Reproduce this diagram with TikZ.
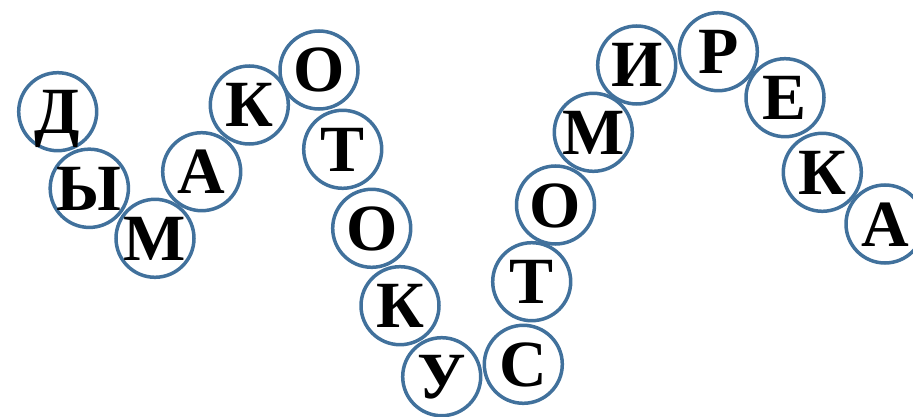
\documentclass[tikz,border=0pt]{standalone}
\usepackage{fontspec}
\setmainfont{Liberation Serif}
\usepackage{tikz}
\usetikzlibrary{shapes}
\definecolor{ringblue}{RGB}{65,113,156}
\tikzset{letter/.style={circle,draw=ringblue,line width=3.5pt,minimum size=78pt,inner sep=0pt,
  text height=44pt,text depth=0pt,font=\fontsize{66}{66}\selectfont\bfseries}}

\begin{document}
\begin{tikzpicture}[x=1pt,y=-1pt]
\useasboundingbox (0,0) rectangle (913,417);

% first hill
\node[letter] (d) at (57.7,111.7) {Д};
\node[letter] (y) at (89.3,188.3) {Ы};
\node[letter] (m1) at (155,238.3) {М};
\node[letter] (a1) at (201.7,171.7) {А};
\node[letter] (k1) at (249.3,105) {К};
\node[letter] (o1) at (319,70) {О};

% valley
\node[letter] (t1) at (342.7,149.3) {Т};
\node[letter] (o2) at (371.7,228.3) {О};
\node[letter] (k2) at (400,305.7) {К};
\node[letter] (u) at (441.7,376.7) {У};
\node[letter] (s) at (523.3,364.3) {С};
\node[letter] (t2) at (531.7,281.7) {Т};
\node[letter] (o3) at (555.5,205) {О};

% second hill
\node[letter] (m2) at (593.3,132.3) {М};
\node[letter] (i) at (636.7,65) {И};
\node[letter] (r) at (718.3,51.7) {Р};
\node[letter] (e) at (785,97.7) {Е};
\node[letter] (k3) at (822.3,172.3) {К};
\node[letter] (a2) at (885,224) {А};

\end{tikzpicture}
\end{document}
